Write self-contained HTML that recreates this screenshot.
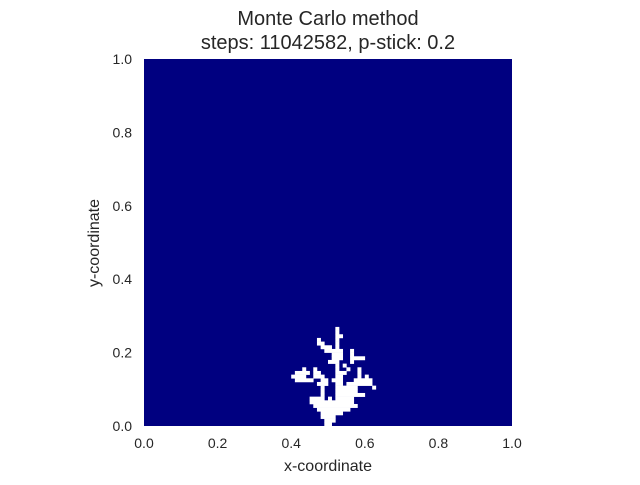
<!DOCTYPE html>
<html><head><meta charset="utf-8"><style>
body{margin:0;background:#fff;}
text{font-family:"Liberation Sans","DejaVu Sans",sans-serif;fill:#262626;}
</style></head><body>
<svg id="chart" width="640" height="480" xmlns="http://www.w3.org/2000/svg">
<text x="328" y="25" font-size="20" text-anchor="middle">Monte Carlo method</text>
<text x="328" y="49" font-size="20" text-anchor="middle">steps: 11042582, p-stick: 0.2</text>
<rect x="144" y="59" width="368" height="367" fill="#000080"/>
<g id="cells"></g>
<g id="xt"></g>
<g id="yt"></g>
<text x="328" y="471" font-size="16" text-anchor="middle">x-coordinate</text>
<text transform="translate(99,243) rotate(-90)" font-size="16" text-anchor="middle">y-coordinate</text>
</svg>
<script>
const gridSize = 100;
const xTicks = ["0.0","0.2","0.4","0.6","0.8","1.0"];
const yTicks = ["0.0","0.2","0.4","0.6","0.8","1.0"];
// occupied cells: [row from top, first col, last col]
const clusterRuns = [
[73,52,52],[74,52,52],[75,52,53],[76,47,47],[76,52,52],[77,47,48],[77,52,52],
[78,48,50],[78,52,52],[79,49,53],[79,56,56],[80,51,53],[80,56,56],[81,51,53],[81,56,59],
[82,50,52],[82,56,56],[83,52,52],[83,54,54],[84,43,43],[84,46,46],[84,52,52],[84,55,55],[84,58,58],
[85,41,44],[85,46,47],[85,52,54],[85,58,58],[86,40,43],[86,46,48],[86,52,53],[86,58,58],[86,60,60],
[87,41,45],[87,48,49],[87,51,53],[87,57,61],[88,47,49],[88,52,53],[88,55,61],
[89,48,48],[89,52,57],[89,62,62],[90,48,48],[90,52,57],[91,48,48],[91,52,59],
[92,45,48],[92,50,50],[92,52,56],[93,45,56],[94,46,57],[95,47,55],[96,48,53],[97,48,51],[98,49,51],[99,49,50]
];
const NS="http://www.w3.org/2000/svg";
const X0=144,Y0=59,W=368,H=367;
const cw=W/gridSize,ch=H/gridSize;
const xScale=v=>X0+v*W, yScale=v=>Y0+H-v*H;
const cg=document.getElementById('cells');
clusterRuns.forEach(([r,c0,c1])=>{
  const el=document.createElementNS(NS,'rect');
  el.setAttribute('x',X0+c0*cw);el.setAttribute('y',Y0+r*ch);
  el.setAttribute('width',(c1-c0+1)*cw+0.3);el.setAttribute('height',ch+0.3);
  el.setAttribute('fill','#fff');
  
  
  cg.appendChild(el);
});
const xg=document.getElementById('xt');
xTicks.forEach(t=>{
  const el=document.createElementNS(NS,'text');
  el.setAttribute('x',xScale(parseFloat(t)));el.setAttribute('y',448);
  el.setAttribute('font-size','14');el.setAttribute('text-anchor','middle');
  el.textContent=t;
  
  
  xg.appendChild(el);
});
const yg=document.getElementById('yt');
yTicks.forEach(t=>{
  const el=document.createElementNS(NS,'text');
  el.setAttribute('x',132);el.setAttribute('y',yScale(parseFloat(t))+5);
  el.setAttribute('font-size','14');el.setAttribute('text-anchor','end');
  el.textContent=t;
  
  
  yg.appendChild(el);
});
</script>
</body></html>
